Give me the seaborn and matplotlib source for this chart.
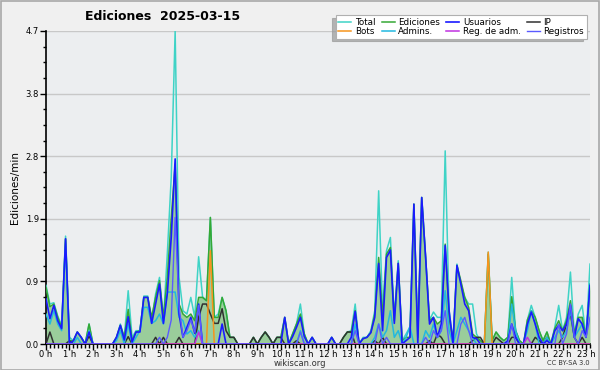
import numpy as np
import pandas as pd
import matplotlib
matplotlib.use("Agg")
import matplotlib.pyplot as plt
from matplotlib.patches import Rectangle
import seaborn as sns

# 10-minute samples, edits per minute
total = [0.88, 0.6, 0.62, 0.42, 0.28, 1.62, 0.1, 0.05, 0.18, 0.1,
         0, 0.3, 0, 0, 0, 0, 0, 0, 0.1, 0.3,
         0.1, 0.8, 0.1, 0.2, 0.2, 0.72, 0.72, 0.35, 0.75, 1.0,
         0.35, 1.36, 2.5, 4.7, 1.0, 0.5, 0.45, 0.7, 0.4, 1.31,
         0.71, 0.65, 1.9, 0.4, 0.45, 0.7, 0.5, 0.1, 0.1, 0,
         0, 0, 0, 0.1, 0, 0.1, 0.18, 0.1, 0, 0.1,
         0.1, 0.4, 0, 0.15, 0.3, 0.6, 0.15, 0, 0.1, 0,
         0, 0, 0, 0.1, 0, 0, 0.1, 0.18, 0.2, 0.6,
         0, 0.1, 0.1, 0.2, 0.5, 2.3, 0.5, 1.4, 1.6, 0.4,
         1.25, 0.05, 0.15, 0.26, 2.1, 0.1, 2.2, 1.3, 0.36, 0.48,
         0.4, 0.4, 2.9, 0.5, 0.05, 1.2, 0.9, 0.7, 0.6, 0.6,
         0.15, 0.05, 0, 1.38, 0.05, 0.18, 0.1, 0.05, 0.1, 1.0,
         0.2, 0.05, 0, 0.36, 0.58, 0.4, 0.2, 0.05, 0.18, 0,
         0.25, 0.58, 0.2, 0.4, 1.08, 0.15, 0.45, 0.58, 0.1, 1.2]
edits = [0.85, 0.56, 0.6, 0.4, 0.25, 1.58, 0.05, 0.05, 0.18, 0.1,
         0, 0.3, 0, 0, 0, 0, 0, 0, 0.1, 0.28,
         0.1, 0.52, 0.05, 0.18, 0.2, 0.7, 0.7, 0.4, 0.7, 0.95,
         0.4, 1.0, 1.9, 2.7, 0.6, 0.45, 0.4, 0.45, 0.35, 0.7,
         0.7, 0.65, 1.9, 0.4, 0.4, 0.7, 0.5, 0.1, 0.1, 0,
         0, 0, 0, 0.1, 0, 0.1, 0.18, 0.1, 0, 0.1,
         0.1, 0.4, 0, 0.15, 0.3, 0.45, 0.15, 0, 0.1, 0,
         0, 0, 0, 0.1, 0, 0, 0.1, 0.18, 0.18, 0.5,
         0, 0.08, 0.1, 0.17, 0.45, 1.3, 0.4, 1.35, 1.45, 0.35,
         1.21, 0.05, 0.1, 0.1, 2.1, 0.1, 2.2, 1.3, 0.35, 0.4,
         0.3, 0.35, 1.5, 0.4, 0.05, 1.18, 0.95, 0.7, 0.55, 0.15,
         0.1, 0.05, 0, 1.35, 0.05, 0.18, 0.1, 0.05, 0.1, 0.71,
         0.2, 0.05, 0, 0.36, 0.5, 0.4, 0.2, 0.05, 0.18, 0,
         0.23, 0.35, 0.2, 0.35, 0.65, 0.15, 0.4, 0.4, 0.1, 0.9]
users = [0.68, 0.38, 0.58, 0.35, 0.23, 1.58, 0, 0.05, 0.18, 0.1,
         0, 0.18, 0, 0, 0, 0, 0, 0, 0.1, 0.28,
         0.06, 0.41, 0.03, 0.18, 0.18, 0.7, 0.7, 0.31, 0.6, 0.9,
         0.31, 0.76, 1.6, 2.78, 0.45, 0.1, 0.25, 0.4, 0.16, 0.6,
         0, 0, 0, 0, 0, 0.3, 0, 0, 0, 0,
         0, 0, 0, 0, 0, 0, 0, 0, 0, 0,
         0, 0.4, 0, 0.11, 0.25, 0.4, 0.11, 0, 0.1, 0,
         0, 0, 0, 0.1, 0, 0, 0, 0, 0.1, 0.49,
         0, 0.08, 0.1, 0.17, 0.4, 1.21, 0.2, 1.3, 1.41, 0.31,
         1.21, 0, 0.05, 0.1, 2.1, 0, 2.2, 1.3, 0.3, 0.4,
         0.1, 0.3, 1.48, 0.5, 0, 1.18, 0.9, 0.6, 0.5, 0.1,
         0.08, 0, 0, 0, 0, 0, 0, 0, 0.05, 0.3,
         0.1, 0, 0, 0.3, 0.48, 0.3, 0.1, 0, 0.05, 0,
         0.2, 0.28, 0.2, 0.3, 0.58, 0.1, 0.38, 0.3, 0.1, 0.88]
ip = [0, 0.18, 0, 0, 0, 0, 0.05, 0, 0, 0,
      0, 0.12, 0, 0, 0, 0, 0, 0, 0, 0,
      0, 0.11, 0, 0, 0, 0, 0, 0, 0.1, 0,
      0.1, 0, 0, 0, 0.1, 0, 0, 0, 0, 0.4,
      0.6, 0.6, 0.45, 0.31, 0.31, 0.53, 0.2, 0.1, 0.1, 0,
      0, 0, 0, 0.1, 0, 0.1, 0.18, 0.1, 0, 0.1,
      0.1, 0, 0, 0, 0.05, 0, 0, 0, 0, 0,
      0, 0, 0, 0, 0, 0, 0.1, 0.18, 0.18, 0,
      0, 0, 0, 0, 0.05, 0, 0.1, 0, 0, 0,
      0, 0, 0, 0, 0, 0, 0, 0, 0.05, 0,
      0.15, 0.1, 0, 0, 0, 0, 0, 0, 0, 0.05,
      0.1, 0.1, 0, 0, 0, 0.1, 0.05, 0, 0, 0.1,
      0.1, 0, 0, 0, 0, 0.1, 0.05, 0, 0.1, 0,
      0, 0, 0.1, 0.3, 0.45, 0.1, 0, 0.1, 0, 0]
bots = [0] * 42 + [1.4] + [0] * 70 + [1.38] + [0] * 26
admins = [0.45, 0.3, 0.5, 0.3, 0.2, 1.5, 0, 0, 0.1, 0,
          0, 0.2, 0, 0, 0, 0, 0, 0, 0.05, 0.2,
          0, 0.3, 0, 0.1, 0.2, 0.55, 0.55, 0.31, 0.35, 0.45,
          0.3, 0.78, 0.78, 0.78, 0.4, 0.35, 0.15, 0.2, 0.1, 0.2,
          0, 0, 0, 0, 0, 0, 0, 0, 0, 0,
          0, 0, 0, 0, 0, 0, 0, 0, 0, 0,
          0, 0, 0, 0, 0, 0.2, 0, 0, 0, 0,
          0, 0, 0, 0, 0, 0, 0, 0, 0, 0.3,
          0, 0, 0, 0, 0.1, 0.3, 0.1, 0.2, 0.5, 0.1,
          0.2, 0, 0.1, 0.26, 0, 0, 0, 0.2, 0.1, 0.3,
          0.1, 0.2, 0.8, 0.2, 0, 0.2, 0.4, 0.3, 0.2, 0.1,
          0, 0, 0, 0, 0, 0, 0, 0, 0, 0.6,
          0.2, 0, 0, 0.2, 0.5, 0.3, 0, 0, 0.1, 0,
          0.1, 0.2, 0.1, 0.2, 0.5, 0.1, 0.2, 0.3, 0.1, 0.9]
regadm = [0] * 39 + [0.18] + [0] * 83 + [0.1] + [0] * 16
logs = [0, 0, 0, 0, 0, 0, 0, 0, 0, 0,
        0, 0, 0, 0, 0, 0, 0, 0, 0, 0,
        0, 0, 0, 0, 0, 0, 0, 0, 0, 0.1,
        0, 0.1, 0.36, 1.9, 0.56, 0.1, 0.2, 0.36, 0.18, 0.58,
        0, 0, 0, 0, 0, 0, 0, 0, 0, 0,
        0, 0, 0, 0, 0, 0, 0, 0, 0, 0,
        0, 0, 0, 0, 0, 0.18, 0, 0, 0, 0,
        0, 0, 0, 0, 0, 0, 0, 0, 0, 0.2,
        0, 0, 0, 0, 0, 0.3, 0, 0.1, 0, 0,
        0, 0, 0, 0, 0, 0, 0, 0.1, 0, 0.2,
        0.1, 0.2, 0.5, 0, 0, 0, 0.3, 0.4, 0.2, 0,
        0, 0, 0, 0, 0, 0, 0, 0, 0, 0.3,
        0, 0, 0, 0, 0, 0, 0, 0, 0, 0,
        0, 0.3, 0, 0.15, 0.6, 0.1, 0, 0.2, 0.1, 0.4]

hour_labels = [f"{h} h" for h in range(24)]
y_ticks = [0.0, 0.94, 1.88, 2.82, 3.76, 4.7]
y_labels = ["0.0", "0.9", "1.9", "2.8", "3.8", "4.7"]

n = len(total)
hours = np.arange(n) / 6.0
df = pd.DataFrame({"h": hours, "total": total, "edits": edits, "users": users,
                   "ip": ip, "bots": bots, "admins": admins, "regadm": regadm,
                   "logs": logs})

fig = plt.figure(figsize=(6, 3.7), dpi=100)
fig.patch.set_facecolor("#f0f0f0")
ax = fig.add_axes([46 / 600, 26 / 370, 544 / 600, 313 / 370])
ax.set_facecolor("#eceef0")

for yv in y_ticks[1:]:
    ax.axhline(yv, color="#c8c8c8", lw=1, zorder=0)

ax.fill_between(df["h"], df["edits"], color="#8cc88c", alpha=0.85, lw=0, zorder=1)

series = [
    ("total", "Total", "#3fd3c6", 1.1),
    ("edits", "Ediciones", "#35a835", 1.1),
    ("ip", "IP", "#303030", 1.1),
    ("bots", "Bots", "#f7941d", 1.1),
    ("admins", "Admins.", "#22b8e0", 1.1),
    ("users", "Usuarios", "#1a1aff", 1.2),
    ("regadm", "Reg. de adm.", "#c030e0", 1.1),
    ("logs", "Registros", "#5a5aff", 1.0),
]
for col, lab, colr, lw in series:
    sns.lineplot(data=df, x="h", y=col, ax=ax, color=colr, lw=lw, label=lab,
                 zorder=3, legend=False)

ax.set_xlim(0, hours[-1])
ax.set_ylim(0, 4.7)
ax.set_xticks(np.arange(24))
ax.set_xticklabels(hour_labels, fontsize=6)
ax.set_xticks(np.arange(0, hours[-1] + 0.01, 1 / 6), minor=True)
ax.set_yticks(y_ticks)
ax.set_yticklabels(y_labels, fontsize=6)
ax.set_yticks(np.arange(0, 4.71, 4.7 / 20), minor=True)
ax.tick_params(axis="x", which="major", length=4, width=1, pad=0, color="black")
ax.tick_params(axis="x", which="minor", length=3, width=1, color="black")
ax.tick_params(axis="y", which="major", length=4, width=1, pad=1)
ax.tick_params(axis="y", which="minor", length=2.5, width=1)
for s in ["top", "right"]:
    ax.spines[s].set_visible(False)
for s in ["left", "bottom"]:
    ax.spines[s].set_color("black")
    ax.spines[s].set_linewidth(1.2)
ax.set_xlabel("")
ax.set_ylabel("Ediciones/min", fontsize=7.5, labelpad=4)
ax.grid(False)

order = ["Total", "Bots", "Ediciones", "Admins.", "Usuarios", "Reg. de adm.", "IP", "Registros"]
handles, labels = ax.get_legend_handles_labels()
hmap = dict(zip(labels, handles))
leg = fig.legend([hmap[l] for l in order], order, ncol=4, loc="upper right",
                 bbox_to_anchor=(591 / 600, 1 - 11 / 370), fontsize=6.3,
                 frameon=True, fancybox=False, handlelength=1.5, handletextpad=0.4,
                 columnspacing=0.7, labelspacing=0.0, borderpad=0.3,
                 shadow={"ox": -2.5, "oy": -2, "color": "#9a9a9a", "alpha": 0.7})
leg.get_frame().set_edgecolor("#b0b0b0")
leg.get_frame().set_facecolor("white")
leg.get_frame().set_linewidth(0.8)

fig.text(85 / 600, 1 - 17 / 370, "Ediciones  2025-03-15", fontsize=9, fontweight="bold",
         ha="left", va="center")
fig.text(300 / 600, 1 - 363 / 370, "wikiscan.org", fontsize=6, ha="center", va="center",
         color="#333333")
fig.text(590 / 600, 1 - 363 / 370, "CC BY-SA 3.0", fontsize=4.8, ha="right", va="center",
         color="#333333")
fig.patches.append(Rectangle((0.5 / 600, 0.5 / 370), 598.5 / 600, 368.5 / 370,
                             transform=fig.transFigure, fill=False,
                             edgecolor="#a8a8a8", lw=1.2))

fig.savefig("out.png", dpi=100, facecolor=fig.get_facecolor())
